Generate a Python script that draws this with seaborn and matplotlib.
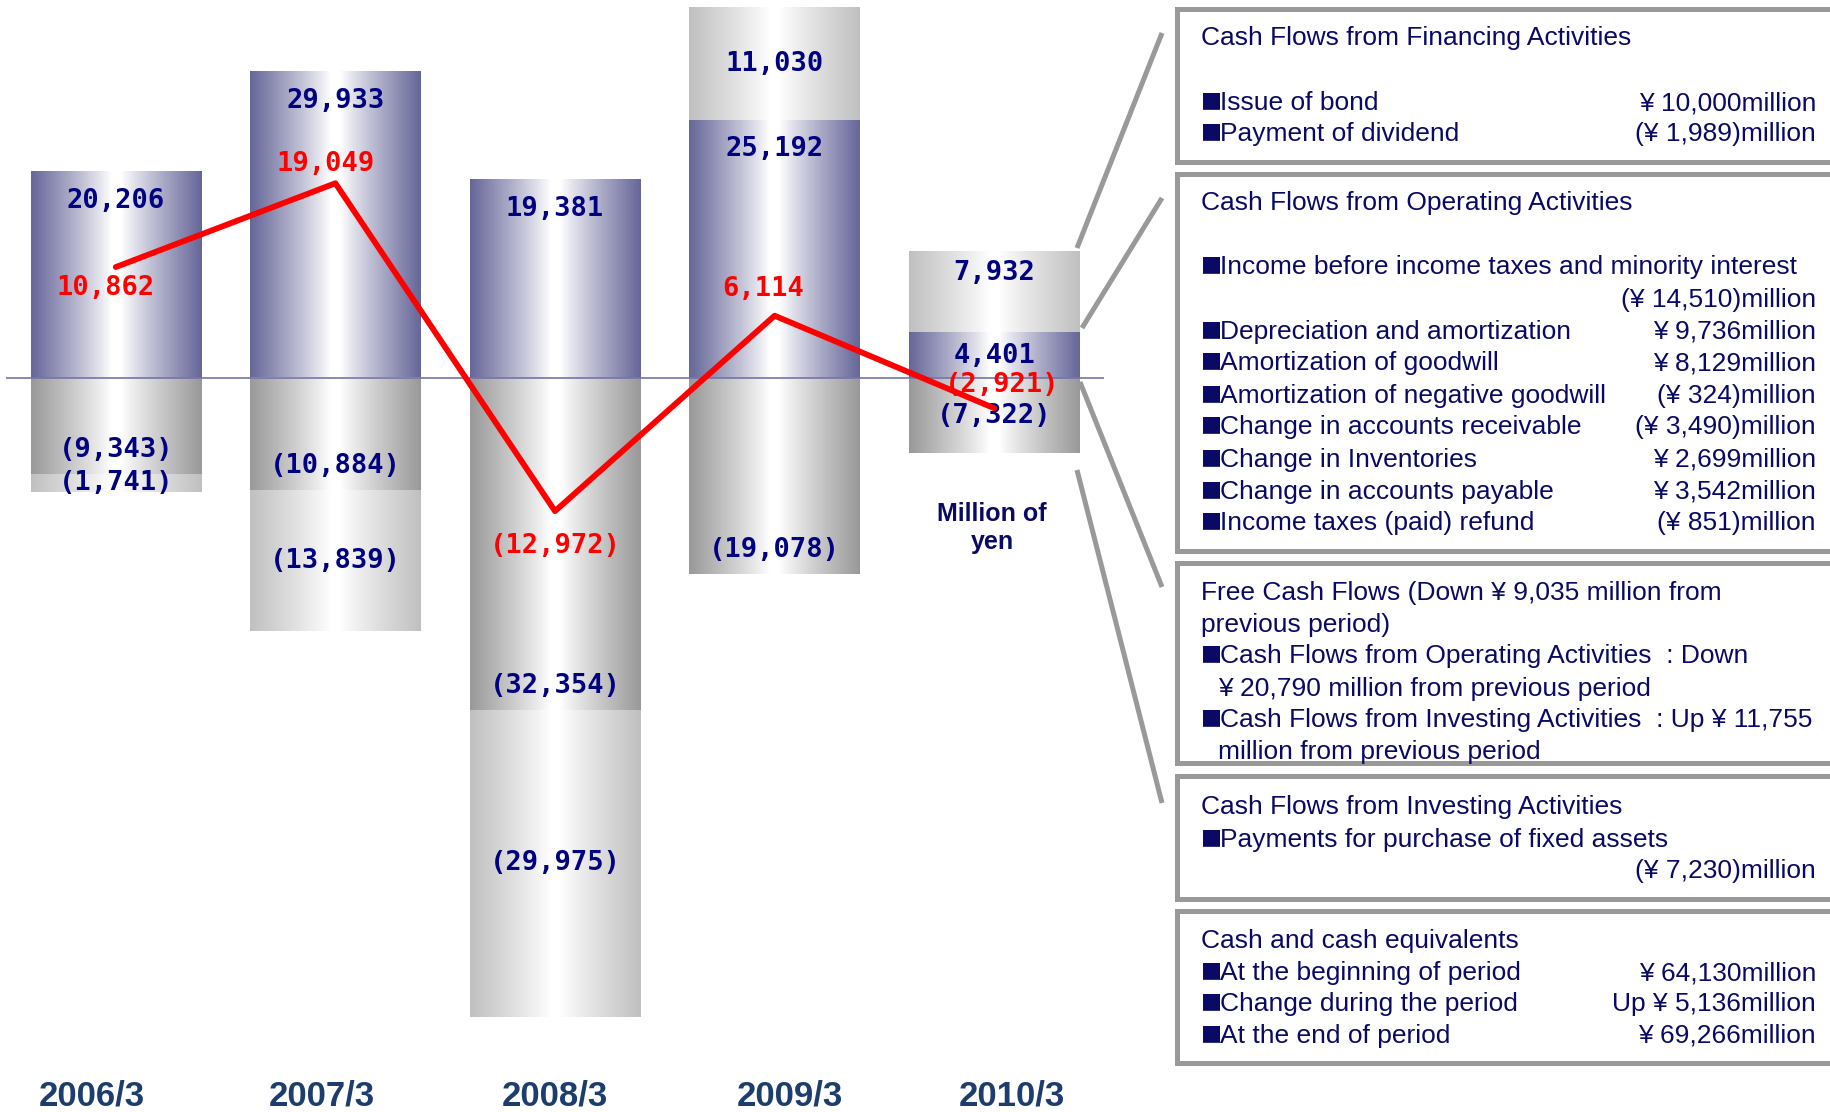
import numpy as np
import seaborn as sns
import matplotlib
matplotlib.use("Agg")
import matplotlib.pyplot as plt
import matplotlib.colors as mcolors
from matplotlib import font_manager
from matplotlib.patches import Rectangle
from matplotlib.lines import Line2D

# data (million yen)
years = ["2006/3", "2007/3", "2008/3", "2009/3", "2010/3"]
operating = [20206, 29933, 19381, 25192, 4401]
investing = [-9343, -10884, -32354, -19078, -7322]
financing = [-1741, -13839, -29975, 11030, 7932]
free_cf = [10862, 19049, -12972, 6114, -2921]

# label nudges (points)
fcf_offsets = [(-7, -15), (-7, 14), (0, -25), (-8, 19), (6, 17)]
year_shift = [-0.11, -0.06, 0.0, 0.07, 0.08]

box_texts = [
    # (top, bottom), [(y, left text, right text, bullet, indent)]
    ((9, 162), [(38, "Cash Flows from Financing Activities", "", False, 0),
                (103, "Issue of bond", "¥ 10,000million", True, 0),
                (134, "Payment of dividend", "(¥ 1,989)million", True, 0)]),
    ((174, 551), [(203, "Cash Flows from Operating Activities", "", False, 0),
                  (267, "Income before income taxes and minority interest", "", True, 0),
                  (300, "", "(¥ 14,510)million", False, 0),
                  (332, "Depreciation and amortization", "¥ 9,736million", True, 0),
                  (363, "Amortization of goodwill", "¥ 8,129million", True, 0),
                  (396, "Amortization of negative goodwill", "(¥ 324)million", True, 0),
                  (427, "Change in accounts receivable", "(¥ 3,490)million", True, 0),
                  (460, "Change in Inventories", "¥ 2,699million", True, 0),
                  (492, "Change in accounts payable", "¥ 3,542million", True, 0),
                  (523, "Income taxes (paid) refund", "(¥ 851)million", True, 0)]),
    ((563, 763), [(593, "Free Cash Flows (Down ¥ 9,035 million from", "", False, 0),
                  (625, "previous period)", "", False, 0),
                  (656, "Cash Flows from Operating Activities  : Down", "", True, 0),
                  (689, "¥ 20,790 million from previous period", "", False, 17),
                  (720, "Cash Flows from Investing Activities  : Up ¥ 11,755", "", True, 0),
                  (752, "million from previous period", "", False, 17)]),
    ((776, 899), [(807, "Cash Flows from Investing Activities", "", False, 0),
                  (840, "Payments for purchase of fixed assets", "", True, 0),
                  (871, "", "(¥ 7,230)million", False, 0)]),
    ((911, 1063), [(941, "Cash and cash equivalents", "", False, 0),
                   (973, "At the beginning of period", "¥ 64,130million", True, 0),
                   (1004, "Change during the period", "Up ¥ 5,136million", True, 0),
                   (1036, "At the end of period", "¥ 69,266million", True, 0)]),
]

W, H = 1831, 1112
BLUE = "#666699"
DARK = "#999999"
LIGHT = "#c0c0c0"
NAVY = "#000080"
TXT = "#0a0a66"
BOX_FS = 19

sns.set_theme(style="white")
names = {f.name for f in font_manager.fontManager.ttflist}
narrow = "Liberation Sans Narrow" if "Liberation Sans Narrow" in names else "Liberation Sans"
plt.rcParams["font.family"] = ["Liberation Sans", "DejaVu Sans"]

fin = np.array(financing)
fin_pos = np.clip(fin, 0, None)
fin_neg = np.clip(fin, None, 0)
op = np.array(operating)
inv = np.array(investing)

fig = plt.figure(figsize=(W / 100, H / 100), dpi=100)
ax_bottom = 1070
ax = fig.add_axes([6 / W, 1 - ax_bottom / H, (1104 - 6) / W, ax_bottom / H])

def px(x, y):
    return x / W, 1 - y / H

def gradient(edge):
    x = np.linspace(0, 1, 256)
    t = np.clip((np.abs(x - 0.5) - 0.03) / 0.47, 0, 1) ** 0.9
    e = np.array(mcolors.to_rgb(edge))
    rgb = 1 - t[:, None] * (1 - e)[None, :]
    return rgb[None, :, :]

layers = [(op + fin_pos, LIGHT), (op, BLUE), (inv + fin_neg, LIGHT), (inv, DARK)]
z = 1.0
for vals, col in layers:
    n0 = len(ax.patches)
    sns.barplot(x=years, y=vals, color=col, width=0.776, saturation=1,
                errorbar=None, ax=ax)
    for p in ax.patches[n0:]:
        x0, w = p.get_x(), p.get_width()
        y0, h = p.get_y(), p.get_height()
        p.set_facecolor("none")
        p.set_edgecolor("none")
        if h == 0:
            continue
        ax.imshow(gradient(col), extent=[x0, x0 + w, min(y0, y0 + h), max(y0, y0 + h)],
                  aspect="auto", clip_path=p, zorder=z, interpolation="bilinear")
        z += 0.01

ax.axhline(0, color="#7474a8", lw=1.2, zorder=3)

pos = np.arange(len(years))
sns.lineplot(x=pos, y=free_cf, color="#ff0000", lw=4.2, ax=ax, zorder=5)

def fmt(v):
    return f"{v:,}" if v >= 0 else f"({-v:,})"

num_font = dict(family="DejaVu Sans Mono", fontweight="bold", fontsize=19.5)

for i in range(len(years)):
    # operating
    if op[i] > 10000:
        ax.annotate(fmt(op[i]), (i, op[i]), xytext=(0, -21), textcoords="offset points",
                    ha="center", va="center", color=NAVY, zorder=4, **num_font)
    else:
        ax.text(i, op[i] / 2, fmt(op[i]), ha="center", va="center", color=NAVY,
                zorder=4, **num_font)
    # financing
    if fin[i] > 0:
        ax.annotate(fmt(fin[i]), (i, op[i] + fin[i] / 2), xytext=(0, 14 if fin[i] < 10000 else 0),
                    textcoords="offset points", ha="center", va="center", color=NAVY,
                    zorder=4, **num_font)
    else:
        ax.text(i, inv[i] + fin[i] / 2, fmt(fin[i]), ha="center", va="center",
                color=NAVY, zorder=4, **num_font)
    # investing
    if inv[i] < -8000:
        ax.annotate(fmt(inv[i]), (i, inv[i]), xytext=(0, 17), textcoords="offset points",
                    ha="center", va="center", color=NAVY, zorder=4, **num_font)
    else:
        ax.text(i, inv[i] / 2, fmt(inv[i]), ha="center", va="center", color=NAVY,
                zorder=4, **num_font)
    # free cash flow
    ax.annotate(fmt(free_cf[i]), (i, free_cf[i]), xytext=fcf_offsets[i],
                textcoords="offset points", ha="center", va="center",
                color="#ff0000", zorder=6, **num_font)

ax.text(3.99, -14600, "Million of\nyen", ha="center", va="center", color=TXT,
        fontsize=18, fontweight="bold", linespacing=1.2, zorder=4)

ax.set_xlim(-0.5, 4.5)
ax.set_ylim(-67549, 36943)
ax.set_xticks(pos + np.array(year_shift))
ax.set_xticklabels(years, family=[narrow, "DejaVu Sans"], fontweight="bold",
                   fontsize=25, color="#1c3d6e")
ax.tick_params(axis="x", length=0, pad=7)
ax.set_yticks([])
ax.set_xlabel("")
ax.set_ylabel("")
for s in ax.spines.values():
    s.set_visible(False)
ax.set_facecolor("white")

# connector lines
for (x1, y1), (x2, y2) in [((1077, 248), (1162, 33)), ((1082, 328), (1162, 198)),
                           ((1080, 382), (1162, 587)), ((1077, 470), (1162, 803))]:
    a, b = px(x1, y1), px(x2, y2)
    fig.add_artist(Line2D([a[0], b[0]], [a[1], b[1]], color=DARK, lw=3.6,
                          solid_capstyle="butt"))

# text boxes
for (top, bot), lines in box_texts:
    x0, y0 = px(1177, bot)
    fig.add_artist(Rectangle((x0, y0), (1845 - 1177) / W, (bot - top) / H,
                             facecolor="white", edgecolor=DARK, lw=3.6))
    for y, left, right, bullet, indent in lines:
        if bullet:
            fig.text(*px(1201, y - 3), "■", ha="left", va="center",
                     color=TXT, fontsize=16, family="DejaVu Sans")
            fig.text(*px(1220, y), left, ha="left", va="center",
                     color=TXT, fontsize=BOX_FS)
        elif left:
            fig.text(*px(1201 + indent, y), left, ha="left", va="center",
                     color=TXT, fontsize=BOX_FS)
        if right:
            fig.text(*px(1816, y), right, ha="right", va="center",
                     color=TXT, fontsize=BOX_FS)

fig.savefig("out.png", dpi=100)
